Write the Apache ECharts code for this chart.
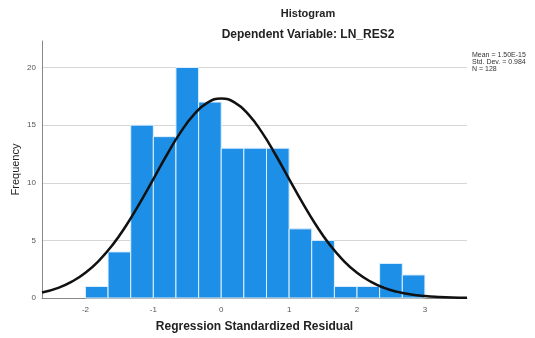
<!DOCTYPE html>
<html><head><meta charset="utf-8">
<script src="https://cdn.jsdelivr.net/npm/echarts@6/dist/echarts.min.js"></script>
<style>html,body{margin:0;padding:0;background:#fff}#c{width:535px;height:338px}</style>
</head><body><div id="c"></div>
<script>
const binEdges = [-2, -1.667, -1.333, -1, -0.667, -0.333, 0, 0.333, 0.667, 1, 1.333, 1.667, 2, 2.333, 2.667, 3];
const counts = [1, 4, 15, 14, 20, 17, 13, 13, 13, 6, 5, 1, 1, 3, 2];
const curveX = [-2.64,-2.4,-2.2,-2.0,-1.8,-1.6,-1.4,-1.2,-1.0,-0.8,-0.6,-0.4,-0.2,0,0.2,0.4,0.6,0.8,1.0,1.2,1.4,1.6,1.8,2.0,2.2,2.4,2.6,2.8,3.0,3.2,3.4,3.62];
const curveY = [0.47,0.88,1.42,2.19,3.25,4.61,6.29,8.23,10.32,12.43,14.37,15.93,16.95,17.30,16.95,15.93,14.37,12.43,10.32,8.23,6.29,4.61,3.25,2.19,1.42,0.88,0.53,0.30,0.17,0.09,0.04,0.02];
const xTicks = [-2, -1, 0, 1, 2, 3];
const statsLines = ['Mean = 1.50E-15', 'Std. Dev. = 0.984', 'N = 128'];

const barData = counts.map((c, i) => [binEdges[i], binEdges[i + 1], c]);
const chart = echarts.init(document.getElementById('c'));
chart.setOption({
  animation: false,
  textStyle: { fontFamily: 'Arial, Liberation Sans, sans-serif' },
  grid: { left: 42, right: 68, top: 41, bottom: 40, containLabel: false, outerBoundsMode: 'none' },
  title: [
    { text: 'Histogram', left: 303, top: 3, textAlign: 'center',
      textStyle: { fontSize: 11, fontWeight: 'bold', color: '#222' } },
    { text: 'Dependent Variable: LN_RES2', left: 303, top: 24, textAlign: 'center',
      textStyle: { fontSize: 12, fontWeight: 'bold', color: '#222' } }
  ],
  graphic: [{
    type: 'text', left: 472, top: 52,
    style: { text: statsLines.join('\n'), fontSize: 7, lineHeight: 7, fill: '#333', fontFamily: 'Arial, Liberation Sans, sans-serif' }
  }],
  xAxis: {
    type: 'value', min: -2.64, max: 3.62,
    name: 'Regression Standardized Residual', nameLocation: 'middle', nameGap: 23,
    nameTextStyle: { fontSize: 12, fontWeight: 'bold', color: '#222' },
    axisLine: { show: true, onZero: false, lineStyle: { color: '#888' } },
    axisTick: { show: false },
    splitLine: { show: false },
    axisLabel: { customValues: xTicks, fontSize: 8, color: '#555', margin: 8 }
  },
  yAxis: {
    type: 'value', min: 0, max: 22.3, interval: 5,
    name: 'Frequency', nameLocation: 'middle', nameGap: 21, nameRotate: 90, nameMoveOverlap: false,
    nameTextStyle: { fontSize: 11, color: '#222' },
    axisLine: { show: true, onZero: false, lineStyle: { color: '#888' } },
    axisTick: { show: false },
    splitLine: { show: true, showMaxLine: false, lineStyle: { color: '#d6d6d6' } },
    axisLabel: { fontSize: 8, color: '#555', margin: 6, showMaxLabel: false }
  },
  series: [
    {
      type: 'custom', data: barData, z: 2,
      renderItem: (params, api) => {
        const p0 = api.coord([api.value(0), api.value(2)]);
        const p1 = api.coord([api.value(1), 0]);
        return { type: 'rect',
          shape: { x: p0[0], y: p0[1], width: p1[0] - p0[0], height: p1[1] - p0[1] },
          style: { fill: '#1E8FE6', stroke: '#dfefff', lineWidth: 1 } };
      }
    },
    {
      type: 'line', smooth: true, symbol: 'none', z: 3,
      data: curveX.map((x, i) => [x, curveY[i]]),
      lineStyle: { color: '#111', width: 2.5 }
    }
  ]
});
</script></body></html>
